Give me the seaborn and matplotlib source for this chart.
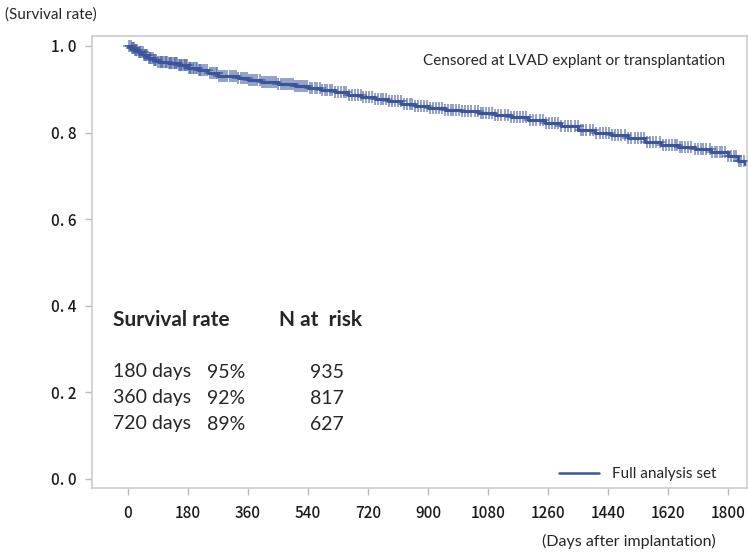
import numpy as np
import pandas as pd
import matplotlib
matplotlib.use("Agg")
import matplotlib.pyplot as plt
import seaborn as sns

# Kaplan-Meier step values
step_days = [0, 10, 20, 30, 45, 60, 75, 90, 120, 150, 180, 210, 240, 270, 300, 330, 360,
             400, 450, 500, 540, 580, 620, 660, 700, 740, 780, 820, 860, 900, 950, 1000,
             1050, 1100, 1150, 1200, 1250, 1300, 1350, 1400, 1450, 1500, 1550, 1600, 1650,
             1700, 1750, 1800, 1830, 1850]
step_surv = [1.0, 0.995, 0.99, 0.985, 0.978, 0.972, 0.967, 0.964, 0.96, 0.955, 0.95, 0.945,
             0.937, 0.931, 0.93, 0.927, 0.922, 0.916, 0.912, 0.908, 0.904, 0.899, 0.893,
             0.887, 0.882, 0.877, 0.872, 0.867, 0.862, 0.857, 0.852, 0.849, 0.845, 0.840,
             0.836, 0.829, 0.822, 0.814, 0.806, 0.800, 0.795, 0.788, 0.779, 0.772, 0.766,
             0.762, 0.755, 0.745, 0.735, 0.728]

# censoring times (days)
censor_days = [3, 8, 12, 15, 18, 22, 25, 28, 33, 36, 40, 44, 48, 52, 55, 58, 62, 66, 70, 74,
               78, 82, 85, 90, 95, 99, 102, 106, 110, 114, 118, 122, 125, 129, 133, 137,
               140, 144, 148, 152, 156, 160, 163, 167, 170, 174, 178, 182, 186, 190, 195,
               199, 203, 207, 212, 216, 220, 225, 230, 238, 245, 252, 258, 263, 268, 274,
               280, 286, 292, 298, 305, 312, 318, 325, 331, 338, 344, 350, 358, 364, 370,
               376, 382, 388, 395, 401, 408, 414, 420, 426, 432, 438, 445, 451, 458, 464,
               470, 476, 482, 488, 495, 501, 508, 514, 520, 526, 532, 538, 545, 552, 560,
               568, 575, 582, 590, 597, 605, 613, 622, 631, 640, 648, 655, 663, 672, 681,
               690, 698, 705, 713, 722, 731, 740, 749, 758, 766, 775, 783, 792, 801, 810,
               819, 828, 836, 845, 853, 862, 871, 880, 889, 898, 906, 915, 923, 932, 941,
               950, 959, 968, 976, 985, 993, 1002, 1011, 1020, 1030, 1040, 1049, 1058,
               1066, 1075, 1083, 1092, 1101, 1110, 1120, 1130, 1140, 1150, 1159, 1168,
               1176, 1185, 1195, 1205, 1215, 1225, 1235, 1245, 1253, 1262, 1271, 1280,
               1290, 1300, 1310, 1320, 1330, 1340, 1349, 1358, 1366, 1375, 1385, 1395,
               1405, 1415, 1425, 1435, 1443, 1452, 1461, 1470, 1480, 1490, 1500, 1510,
               1520, 1530, 1539, 1548, 1556, 1565, 1575, 1585, 1595, 1605, 1613, 1622,
               1631, 1640, 1648, 1655, 1663, 1670, 1680, 1690, 1700, 1710, 1718, 1725,
               1735, 1745, 1753, 1760, 1768, 1775, 1783, 1790, 1800, 1810, 1818, 1825,
               1833, 1840, 1848]

x_ticks = [0, 180, 360, 540, 720, 900, 1080, 1260, 1440, 1620, 1800]
y_ticks = [0.0, 0.2, 0.4, 0.6, 0.8, 1.0]
y_tick_labels = ["0. 0", "0. 2", "0. 4", "0. 6", "0. 8", "1. 0"]

table_rows = ["180 days", "360 days", "720 days"]
table_rates = ["95%", "92%", "89%"]
table_risk = ["935", "817", "627"]

series_name = "Full analysis set"
color = "#3B559C"

sns.set_theme(style="white")
plt.rcParams["font.family"] = ["Lato", "DejaVu Sans"]

fig = plt.figure(figsize=(7.48, 5.54), dpi=100)
ax = fig.add_axes([92 / 748, (554 - 488) / 554, (747 - 92) / 748, (488 - 36) / 554])

km = pd.DataFrame({"days": step_days, "surv": step_surv, "group": series_name})
sns.lineplot(data=km, x="days", y="surv", hue="group", palette=[color],
             drawstyle="steps-post", linewidth=2.2, ax=ax, legend=True)

# censor marks on the curve
idx = np.searchsorted(np.array(step_days), np.array(censor_days), side="right") - 1
cens = pd.DataFrame({"days": censor_days, "surv": np.array(step_surv)[idx]})
sns.scatterplot(data=cens, x="days", y="surv", marker="+", s=70, color=color,
                linewidth=1.1, alpha=0.7, ax=ax, legend=False, zorder=3)

ax.set_xlim(-108, 1857)
ax.set_ylim(-0.021, 1.023)
ax.set_xticks(x_ticks)
ax.set_xticklabels([str(t) for t in x_ticks], family=["Noto Sans CJK JP"], fontsize=11,
                   color="#1a1a1a", fontweight="medium")
ax.set_yticks(y_ticks)
ax.set_yticklabels(y_tick_labels, family=["Noto Sans CJK JP"], fontsize=11,
                   color="#1a1a1a", fontweight="medium")
ax.tick_params(axis="both", which="major", length=5, width=1, color="#bbbbbb", pad=6,
               bottom=True, left=True)
ax.tick_params(axis="x", pad=7)
for s in ax.spines.values():
    s.set_color("#cccccc")
    s.set_linewidth(1.2)
ax.set_xlabel("")
ax.set_ylabel("")

leg = ax.legend(loc="lower right", frameon=False, fontsize=11, handlelength=2.6,
                handletextpad=0.9, bbox_to_anchor=(0.975, -0.015))
for h in leg.get_lines():
    h.set_linewidth(1.8)

fig.text(5 / 748, 1 - 15 / 554, "(Survival rate)", fontsize=11, va="center", ha="left")
fig.text(716 / 748, 1 - 541 / 554, "(Days after implantation)", fontsize=11.5, va="center", ha="right")
ax.text(0.967, 0.945, "Censored at LVAD explant or transplantation", transform=ax.transAxes,
        fontsize=11, ha="right", va="center")

# survival table
def fy(py):
    return 1 - py / 554

fig.text(113 / 748, fy(320), "Survival rate", fontsize=15, fontweight="bold", va="center")
fig.text(279 / 748, fy(320), "N at  risk", fontsize=15, fontweight="bold", va="center")
for i, (r, p, n) in enumerate(zip(table_rows, table_rates, table_risk)):
    y = fy(372 + 26 * i)
    fig.text(113 / 748, y, r, fontsize=14, va="center")
    fig.text(207 / 748, y, p, fontsize=14, va="center")
    fig.text(310 / 748, y, n, fontsize=14, va="center")

fig.savefig("out.png", dpi=100)
